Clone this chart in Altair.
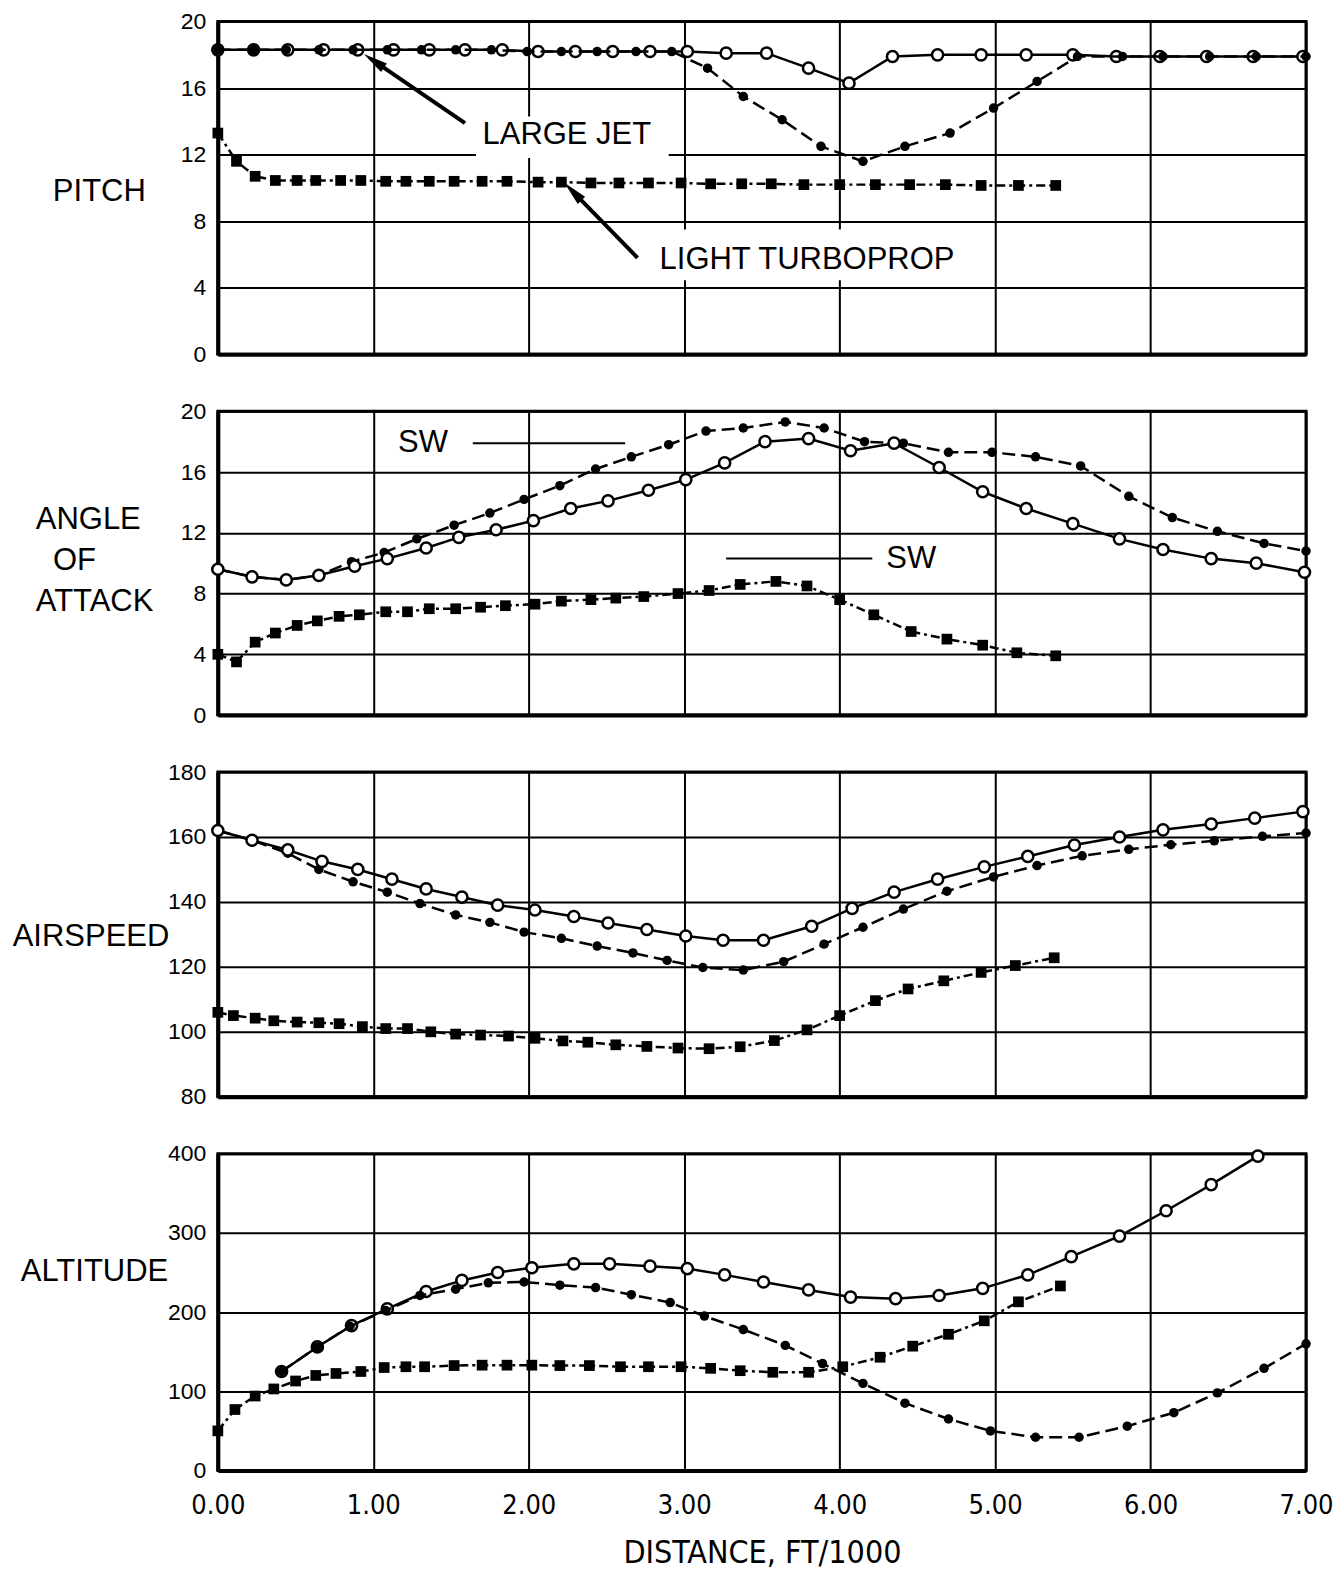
import math
import altair as alt
import pandas as pd

# ------------------------------------------------------------------ data
# PITCH (deg)
pitch_jet_x = [0.00, 0.23, 0.44, 0.65, 0.87, 1.09, 1.31, 1.53, 1.76, 1.99, 2.21, 2.44, 2.69, 2.92, 3.15,
               3.38, 3.63, 3.88, 4.15, 4.42, 4.71, 4.99, 5.27, 5.53, 5.82, 6.08, 6.38, 6.68, 7.00]
pitch_jet_y = [18.3, 18.3, 18.3, 18.3, 18.3, 18.3, 18.3, 18.3, 18.3, 18.2, 18.2, 18.2, 18.2, 18.2, 17.2,
               15.5, 14.1, 12.5, 11.6, 12.5, 13.3, 14.8, 16.4, 17.9, 17.9, 17.9, 17.9, 17.9, 17.9]
pitch_sw_x = [0.00, 0.23, 0.45, 0.68, 0.90, 1.13, 1.36, 1.59, 1.83, 2.06, 2.30, 2.54, 2.78, 3.02,
              3.27, 3.53, 3.80, 4.06, 4.34, 4.63, 4.91, 5.20, 5.50, 5.78, 6.06, 6.36, 6.66, 6.98]
pitch_sw_y = [18.3, 18.3, 18.3, 18.3, 18.3, 18.3, 18.3, 18.3, 18.3, 18.2, 18.2, 18.2, 18.2, 18.2,
              18.1, 18.1, 17.2, 16.3, 17.9, 18.0, 18.0, 18.0, 18.0, 17.9, 17.9, 17.9, 17.9, 17.9]
pitch_tp_x = [0.00, 0.12, 0.24, 0.37, 0.51, 0.63, 0.79, 0.92, 1.08, 1.21, 1.36, 1.52, 1.70, 1.86, 2.06, 2.21,
              2.40, 2.58, 2.77, 2.98, 3.17, 3.37, 3.56, 3.77, 4.00, 4.23, 4.45, 4.68, 4.91, 5.15, 5.39]
pitch_tp_y = [13.3, 11.6, 10.7, 10.45, 10.45, 10.45, 10.45, 10.45, 10.4, 10.4, 10.4, 10.4, 10.4, 10.4, 10.35,
              10.35, 10.3, 10.3, 10.3, 10.3, 10.25, 10.25, 10.25, 10.2, 10.2, 10.2, 10.2, 10.2, 10.15, 10.15, 10.15]

# ANGLE OF ATTACK (deg)
aoa_jet_x = [0.00, 0.22, 0.44, 0.65, 0.86, 1.07, 1.28, 1.52, 1.75, 1.97, 2.20, 2.43, 2.66, 2.90, 3.14,
             3.38, 3.65, 3.90, 4.16, 4.41, 4.70, 4.98, 5.26, 5.55, 5.86, 6.14, 6.43, 6.73, 7.00]
aoa_jet_y = [9.6, 9.1, 8.9, 9.2, 10.1, 10.7, 11.6, 12.5, 13.3, 14.2, 15.1, 16.2, 17.0, 17.8, 18.7,
             18.9, 19.3, 18.9, 18.0, 17.9, 17.3, 17.3, 17.0, 16.4, 14.4, 13.0, 12.1, 11.3, 10.8]
aoa_sw_x = [0.00, 0.22, 0.44, 0.65, 0.88, 1.09, 1.34, 1.55, 1.79, 2.03, 2.27, 2.51, 2.77, 3.01,
            3.26, 3.52, 3.80, 4.07, 4.35, 4.64, 4.92, 5.20, 5.50, 5.80, 6.08, 6.39, 6.68, 6.99]
aoa_sw_y = [9.6, 9.1, 8.9, 9.2, 9.8, 10.3, 11.0, 11.7, 12.2, 12.8, 13.6, 14.1, 14.8, 15.5,
            16.6, 18.0, 18.2, 17.4, 17.9, 16.3, 14.7, 13.6, 12.6, 11.6, 10.9, 10.3, 10.0, 9.4]
aoa_tp_x = [0.00, 0.12, 0.24, 0.37, 0.51, 0.64, 0.78, 0.91, 1.08, 1.22, 1.36, 1.53, 1.69, 1.85, 2.04, 2.21,
            2.40, 2.56, 2.74, 2.96, 3.16, 3.36, 3.59, 3.79, 4.00, 4.22, 4.46, 4.69, 4.92, 5.14, 5.39]
aoa_tp_y = [4.0, 3.5, 4.8, 5.4, 5.9, 6.2, 6.5, 6.6, 6.8, 6.8, 7.0, 7.0, 7.1, 7.2, 7.3, 7.5,
            7.6, 7.7, 7.8, 8.0, 8.2, 8.6, 8.8, 8.5, 7.6, 6.6, 5.5, 5.0, 4.6, 4.1, 3.9]

# AIRSPEED (kt)
spd_jet_x = [0.00, 0.22, 0.45, 0.65, 0.87, 1.09, 1.30, 1.53, 1.75, 1.97, 2.21, 2.44, 2.67, 2.89, 3.12,
             3.38, 3.64, 3.90, 4.15, 4.41, 4.69, 4.99, 5.27, 5.56, 5.86, 6.13, 6.41, 6.72, 7.00]
spd_jet_y = [162.0, 159.0, 155.0, 150.0, 146.2, 143.0, 139.5, 136.0, 133.7, 130.7, 128.8, 126.4, 124.3, 122.0, 119.8,
             119.0, 121.6, 127.0, 132.2, 137.8, 143.3, 147.7, 151.2, 154.2, 156.2, 157.6, 158.8, 160.2, 161.2]
spd_sw_x = [0.00, 0.22, 0.45, 0.67, 0.90, 1.12, 1.34, 1.57, 1.80, 2.04, 2.29, 2.51, 2.76, 3.01,
            3.25, 3.51, 3.82, 4.08, 4.35, 4.63, 4.93, 5.21, 5.51, 5.80, 6.08, 6.39, 6.67, 6.98]
spd_sw_y = [162.0, 159.0, 156.0, 152.5, 150.0, 147.0, 144.0, 141.5, 139.0, 137.5, 135.5, 133.5, 131.5, 129.5,
            128.2, 128.2, 132.5, 138.0, 143.0, 147.0, 150.8, 154.0, 157.5, 160.0, 162.2, 164.0, 165.8, 167.8]
spd_tp_x = [0.00, 0.10, 0.24, 0.36, 0.51, 0.65, 0.78, 0.93, 1.08, 1.22, 1.37, 1.53, 1.69, 1.87, 2.04, 2.22,
            2.38, 2.56, 2.76, 2.96, 3.16, 3.36, 3.58, 3.79, 4.00, 4.23, 4.44, 4.67, 4.91, 5.13, 5.38]
spd_tp_y = [106.0, 105.0, 104.2, 103.4, 103.0, 102.8, 102.5, 101.6, 101.0, 101.0, 100.0, 99.3, 99.0, 98.7, 98.0, 97.2,
            96.8, 96.0, 95.5, 95.0, 94.8, 95.4, 97.3, 100.6, 105.0, 109.6, 113.2, 115.7, 118.3, 120.4, 122.8]

# ALTITUDE (ft)
alt_jet_x = [0.41, 0.64, 0.85, 1.08, 1.30, 1.53, 1.74, 1.97, 2.20, 2.43, 2.66, 2.91, 3.13, 3.38,
             3.65, 3.89, 4.15, 4.42, 4.70, 4.97, 5.26, 5.54, 5.85, 6.15, 6.43, 6.73, 7.00]
alt_jet_y = [125, 156, 182, 202, 221, 229, 237, 238, 234, 231, 222, 212, 195, 178,
             158, 135, 110, 85, 65, 50, 42, 42, 56, 73, 98, 129, 160]
alt_sw_x = [0.41, 0.64, 0.86, 1.09, 1.34, 1.57, 1.80, 2.02, 2.29, 2.52, 2.78, 3.02, 3.26,
            3.51, 3.80, 4.07, 4.36, 4.64, 4.92, 5.21, 5.49, 5.80, 6.10, 6.39, 6.69]
alt_sw_y = [125, 156, 183, 204, 226, 240, 250, 256, 261, 261, 258, 255, 247,
            238, 228, 219, 217, 221, 230, 247, 270, 296, 328, 361, 397]
alt_tp_x = [0.00, 0.11, 0.24, 0.36, 0.50, 0.63, 0.76, 0.92, 1.07, 1.21, 1.33, 1.52, 1.70, 1.86, 2.02, 2.20,
            2.39, 2.59, 2.77, 2.98, 3.17, 3.36, 3.57, 3.80, 4.02, 4.26, 4.47, 4.70, 4.93, 5.15, 5.42]
alt_tp_y = [50, 77, 94, 103, 113, 120, 122.5, 125, 130, 131, 131, 132.5, 133, 133, 133, 132.5,
            132.5, 131, 131, 131, 129, 126, 124, 124, 131, 143, 157, 172, 189, 213, 233]

x_ticks = [0, 1, 2, 3, 4, 5, 6, 7]

# ------------------------------------------------------------------ style
FONT = "Liberation Sans"
COND = "DejaVu Sans Condensed, Liberation Sans, sans-serif"
W = 1089
XS = alt.Scale(domain=[0, 7], nice=False, zero=False)

JET_DASH = [13, 6]
TP_DASH = [9, 4, 3, 4]


class Panel:
    def __init__(self, height, ydom, yvals, title, title_x, title_y, bottom=False):
        self.height = height
        self.ydom = ydom
        self.ys = alt.Scale(domain=ydom, nice=False, zero=False)
        self.yaxis = alt.Axis(values=yvals, grid=True, gridColor="black", gridWidth=2, gridOpacity=1,
                              domainColor="black", domainWidth=4, ticks=False, tickSize=0,
                              labelFlush=False, labelFont=FONT, labelFontSize=23, labelColor="black",
                              labelPadding=12,
                              title=title, titleAngle=0, titleAlign="left", titleBaseline="middle",
                              titleX=title_x, titleY=title_y, titleFont=FONT, titleFontSize=31,
                              titleFontWeight="normal", titleColor="black", titleLineHeight=41)
        kw = dict(values=x_ticks, grid=True, gridColor="black", gridWidth=2, gridOpacity=1,
                  domainColor="black", domainWidth=4, ticks=False, tickSize=0, labelFlush=False)
        if bottom:
            self.xaxis = alt.Axis(format=".2f", labelFont=COND, labelFontSize=27, labelColor="black",
                                  labelPadding=22, title="DISTANCE, FT/1000", titleFont=COND,
                                  titleFontSize=32, titleFontWeight="normal", titleColor="black",
                                  titleBaseline="middle", titleY=82, **kw)
        else:
            self.xaxis = alt.Axis(labels=False, title=None, **kw)

    def enc(self):
        return dict(x=alt.X("x:Q", scale=XS, axis=self.xaxis),
                    y=alt.Y("y:Q", scale=self.ys, axis=self.yaxis))

    def series(self, xs, ys, kind):
        df = pd.DataFrame({"x": xs, "y": ys})
        e = self.enc()
        if kind == "jet":
            line = alt.Chart(df).mark_line(color="black", strokeWidth=2.5, strokeDash=JET_DASH).encode(**e)
            pts = alt.Chart(df).mark_point(shape="circle", filled=True, color="black", opacity=1,
                                           size=90).encode(**e)
        elif kind == "sw":
            line = alt.Chart(df).mark_line(color="black", strokeWidth=2.5).encode(**e)
            pts = alt.Chart(df).mark_point(shape="circle", filled=True, fill="white", stroke="black",
                                           strokeWidth=2.5, opacity=1, size=125).encode(**e)
        else:
            line = alt.Chart(df).mark_line(color="black", strokeWidth=2.5, strokeDash=TP_DASH).encode(**e)
            pts = alt.Chart(df).mark_point(shape="square", filled=True, color="black", opacity=1,
                                           size=115).encode(**e)
        return [line, pts]

    def arrow(self, x0, y0, x1, y1):
        # line from tail (x0, y0) to tip (x1, y1) with a triangular head at the tip
        sx = W / 7.0
        sy = self.height / (self.ydom[1] - self.ydom[0])
        dx = (x1 - x0) * sx
        dy = -(y1 - y0) * sy
        ln = math.hypot(dx, dy)
        ux, uy = dx / ln, dy / ln
        ang = math.degrees(math.atan2(ux, -uy)) % 360
        hx = x1 - 12 * ux / sx
        hy = y1 + 12 * uy / sy
        e = self.enc()
        line = alt.Chart(pd.DataFrame({"x": [x0, hx], "y": [y0, hy]})).mark_line(
            color="black", strokeWidth=4).encode(**e)
        head = alt.Chart(pd.DataFrame({"x": [hx], "y": [hy]})).mark_point(
            shape="M0,-1L0.42,1L-0.42,1Z", filled=True, color="black", opacity=1,
            size=600, angle=ang).encode(**e)
        return [line, head]

    def label(self, x, y, text):
        df = pd.DataFrame({"x": [x], "y": [y], "t": [text]})
        return alt.Chart(df).mark_text(font=FONT, fontSize=31, color="black", align="center",
                                       baseline="middle").encode(text="t:N", **self.enc())

    def hline(self, x0, x1, y):
        df = pd.DataFrame({"x": [x0, x1], "y": [y, y]})
        return alt.Chart(df).mark_line(color="black", strokeWidth=2).encode(**self.enc())

    def white_box(self, x0, x1, y0, y1):
        df = pd.DataFrame({"x": [x0], "x2": [x1], "y": [y0], "y2": [y1]})
        return alt.Chart(df).mark_rect(color="white", opacity=1).encode(
            x2="x2:Q", y2="y2:Q", **self.enc())

    def build(self, data, order, extra):
        layers = list(extra)
        for key in order:
            xs, yv, kind = data[key]
            layers += self.series(xs, yv, kind)
        return alt.layer(*layers).properties(width=W, height=self.height)


# PITCH
P1 = Panel(333, [0, 20], [0, 4, 8, 12, 16, 20], "PITCH", -165.6, 169.6)
ex1 = [P1.white_box(1.66, 2.90, 11.8, 14.3), P1.white_box(2.84, 4.76, 4.45, 7.5)]
ex1 += P1.arrow(1.59, 13.9, 0.94, 18.05) + P1.arrow(2.70, 5.8, 2.23, 10.3)
ex1 += [P1.label(2.245, 13.2, "LARGE JET"), P1.label(3.79, 5.65, "LIGHT TURBOPROP")]
p1 = P1.build({"jet": (pitch_jet_x, pitch_jet_y, "jet"), "sw": (pitch_sw_x, pitch_sw_y, "sw"),
               "tp": (pitch_tp_x, pitch_tp_y, "tp")}, ["sw", "tp", "jet"], ex1)

# ANGLE OF ATTACK
P2 = Panel(304, [0, 20], [0, 4, 8, 12, 16, 20],
           ["ANGLE", "\u200b\u00a0\u00a0OF", "ATTACK"], -182.7, 107.9)
ex2 = [P2.hline(1.64, 2.62, 17.9), P2.hline(3.27, 4.21, 10.3),
       P2.label(1.32, 17.9, "SW"), P2.label(4.46, 10.3, "SW")]
p2 = P2.build({"jet": (aoa_jet_x, aoa_jet_y, "jet"), "sw": (aoa_sw_x, aoa_sw_y, "sw"),
               "tp": (aoa_tp_x, aoa_tp_y, "tp")}, ["jet", "tp", "sw"], ex2)

# AIRSPEED
P3 = Panel(325, [80, 180], [80, 100, 120, 140, 160, 180], "AIRSPEED", -205.8, 164.4)
p3 = P3.build({"jet": (spd_jet_x, spd_jet_y, "jet"), "sw": (spd_sw_x, spd_sw_y, "sw"),
               "tp": (spd_tp_x, spd_tp_y, "tp")}, ["jet", "tp", "sw"], [])

# ALTITUDE
P4 = Panel(317, [0, 400], [0, 100, 200, 300, 400], "ALTITUDE", -197.7, 117.6, bottom=True)
p4 = P4.build({"jet": (alt_jet_x, alt_jet_y, "jet"), "sw": (alt_sw_x, alt_sw_y, "sw"),
               "tp": (alt_tp_x, alt_tp_y, "tp")}, ["sw", "tp", "jet"], [])

chart = alt.vconcat(p1, p2, p3, p4, spacing=57, bounds="flush").properties(
    padding={"left": 2, "top": 0, "right": 0, "bottom": 0},
    background="white",
).configure_view(stroke="black", strokeWidth=3)

chart.save("out.html", embed_options={"renderer": "svg", "actions": False})
